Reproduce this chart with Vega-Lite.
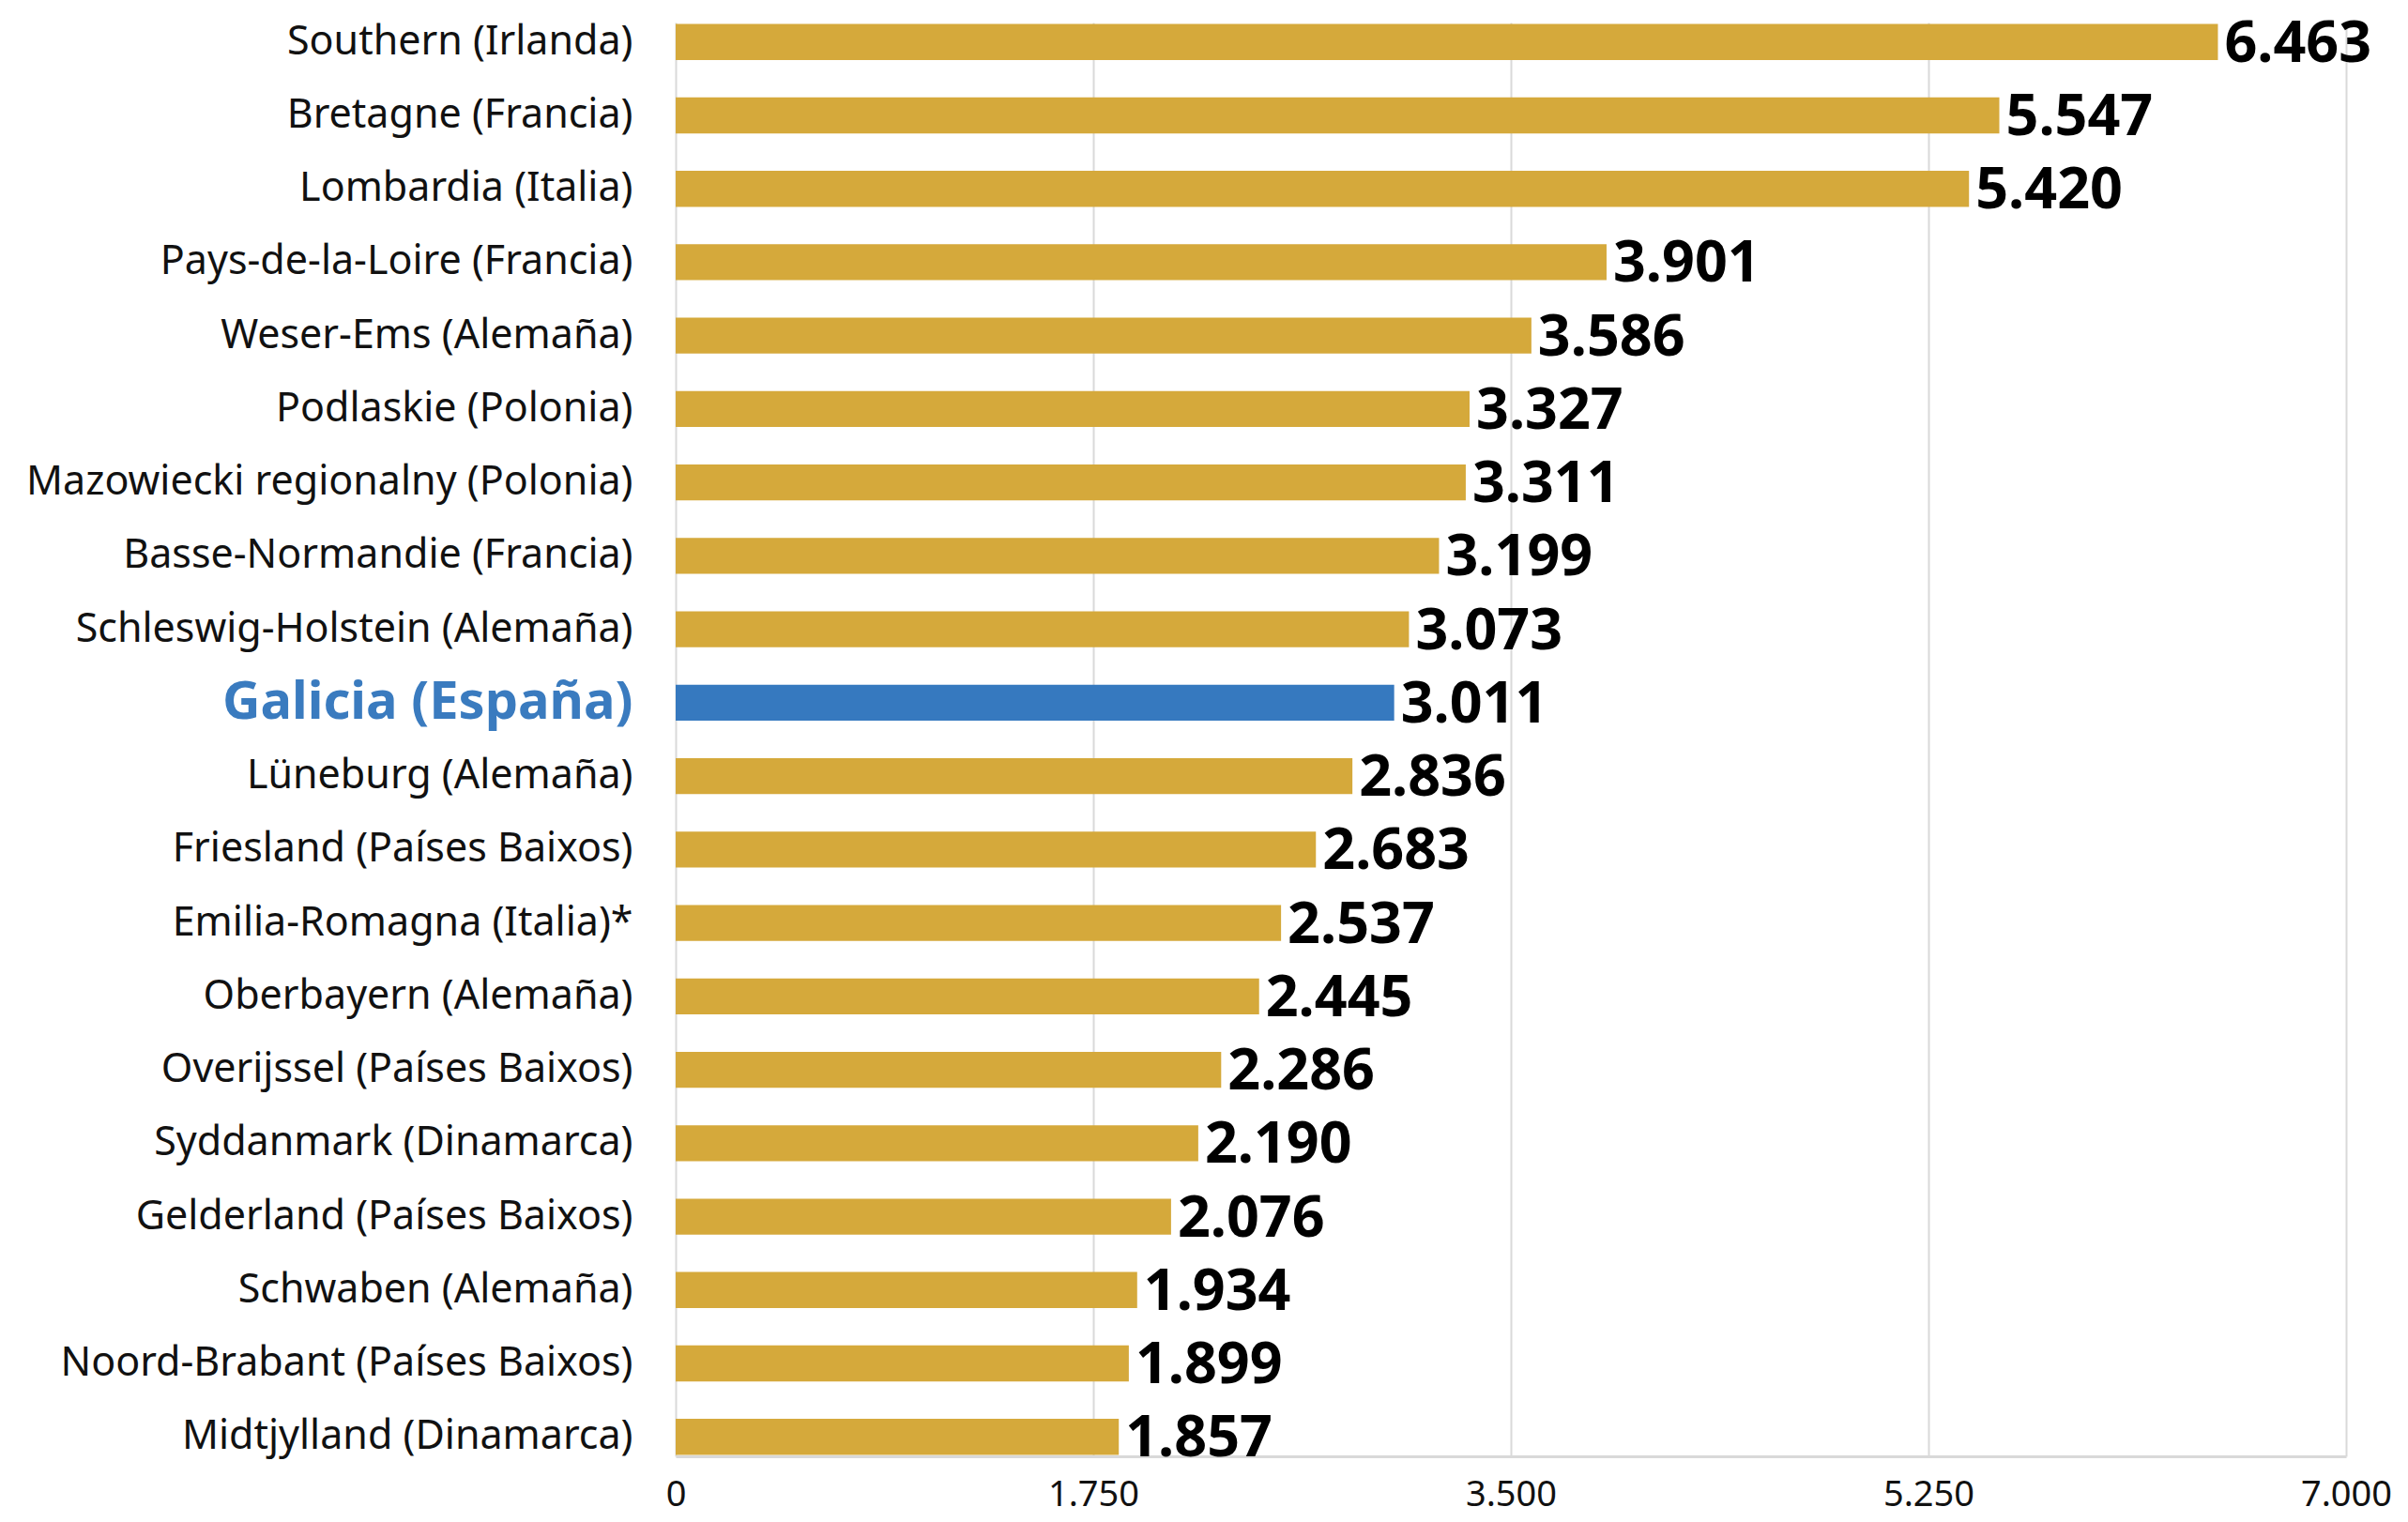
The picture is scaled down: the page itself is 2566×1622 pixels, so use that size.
{
  "$schema": "https://vega.github.io/schema/vega-lite/v6.json",
  "width": 1780,
  "height": 1528,
  "autosize": {"type": "none"},
  "padding": {"left": 720, "top": 24, "right": 66, "bottom": 70},
  "background": "white",
  "config": {
    "locale": {"number": {"decimal": ",", "thousands": ".", "grouping": [3], "currency": ["", " €"]}},
    "view": {"stroke": null},
    "font": "Noto Sans"
  },
  "data": {
    "values": [
      {"region": "Southern (Irlanda)", "value": 6463},
      {"region": "Bretagne (Francia)", "value": 5547},
      {"region": "Lombardia (Italia)", "value": 5420},
      {"region": "Pays-de-la-Loire (Francia)", "value": 3901},
      {"region": "Weser-Ems (Alemaña)", "value": 3586},
      {"region": "Podlaskie (Polonia)", "value": 3327},
      {"region": "Mazowiecki regionalny (Polonia)", "value": 3311},
      {"region": "Basse-Normandie (Francia)", "value": 3199},
      {"region": "Schleswig-Holstein (Alemaña)", "value": 3073},
      {"region": "Galicia (España)", "value": 3011},
      {"region": "Lüneburg (Alemaña)", "value": 2836},
      {"region": "Friesland (Países Baixos)", "value": 2683},
      {"region": "Emilia-Romagna (Italia)*", "value": 2537},
      {"region": "Oberbayern (Alemaña)", "value": 2445},
      {"region": "Overijssel (Países Baixos)", "value": 2286},
      {"region": "Syddanmark (Dinamarca)", "value": 2190},
      {"region": "Gelderland (Países Baixos)", "value": 2076},
      {"region": "Schwaben (Alemaña)", "value": 1934},
      {"region": "Noord-Brabant (Países Baixos)", "value": 1899},
      {"region": "Midtjylland (Dinamarca)", "value": 1857}
    ]
  },
  "encoding": {
    "y": {
      "field": "region",
      "type": "nominal",
      "sort": null,
      "scale": {"paddingInner": 0.51, "paddingOuter": 0.02},
      "axis": {
        "title": null,
        "ticks": false,
        "domain": false,
        "labelPadding": 46,
        "labelFontSize": {"expr": "datum.value == 'Galicia (España)' ? 56 : 43"},
        "labelFontWeight": {"expr": "datum.value == 'Galicia (España)' ? 'bold' : 'normal'"},
        "labelColor": {"expr": "datum.value == 'Galicia (España)' ? '#3a7bbf' : '#111111'"},
        "labelFont": "Noto Sans",
        "labelLimit": 800
      }
    },
    "x": {
      "field": "value",
      "type": "quantitative",
      "scale": {"domain": [0, 7000], "nice": false},
      "axis": {
        "title": null,
        "values": [0, 1750, 3500, 5250, 7000],
        "format": ",d",
        "ticks": false,
        "labelPadding": 22,
        "labelFontSize": 38,
        "labelColor": "#111111",
        "labelFont": "Noto Sans",
        "grid": true,
        "gridColor": "#d9d9d9",
        "gridWidth": 2,
        "domainColor": "#d9d9d9",
        "domainWidth": 3,
        "labelFlush": false
      }
    }
  },
  "layer": [
    {
      "mark": {"type": "bar"},
      "encoding": {
        "color": {
          "condition": {"test": "datum.region == 'Galicia (España)'", "value": "#3679bf"},
          "value": "#d5a93b"
        }
      }
    },
    {
      "mark": {"type": "text", "align": "left", "baseline": "middle", "dx": 7, "dy": 3, "fontSize": 61, "fontWeight": "bold", "font": "Noto Sans", "color": "#000000"},
      "encoding": {
        "text": {"field": "value", "type": "quantitative", "format": ",d"}
      }
    }
  ]
}
